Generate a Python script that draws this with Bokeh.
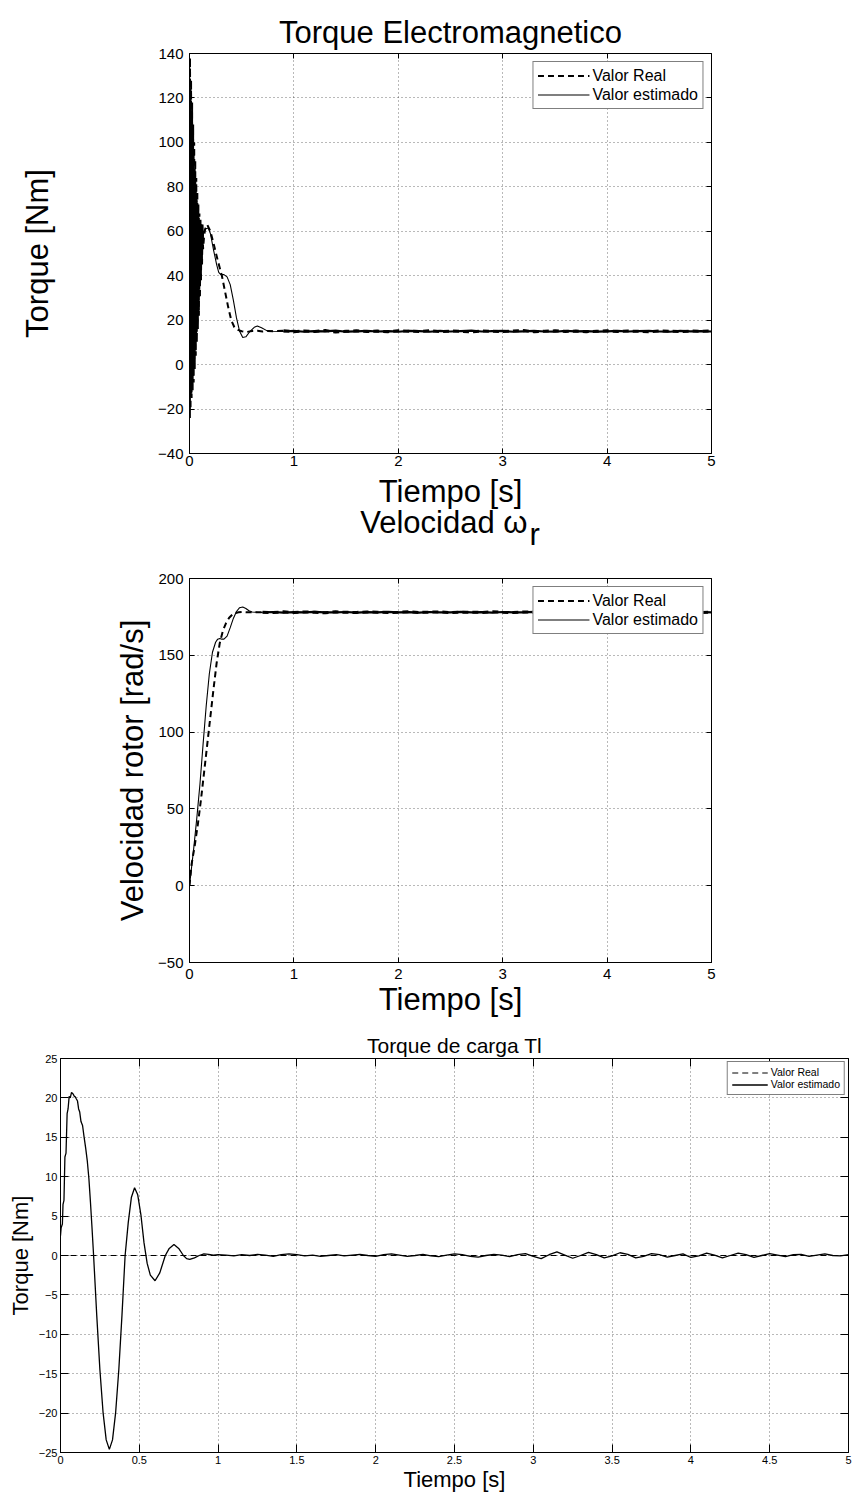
from bokeh.plotting import figure
from bokeh.models import (FixedTicker, LinearAxis, Legend, LegendItem, Range1d)
from bokeh.core.properties import value
from bokeh.embed import file_html
from bokeh.resources import INLINE

FONT = "Liberation Sans"

# ---------------- Electromagnetic torque [Nm] ----------------
te_t_real = [0.000, 0.005, 0.010, 0.015, 0.020, 0.025, 0.030, 0.035, 0.040, 0.045,
             0.050, 0.055, 0.060, 0.065, 0.070, 0.075, 0.080, 0.085, 0.090, 0.095,
             0.100, 0.105, 0.110, 0.115, 0.120, 0.125, 0.130, 0.140, 0.150, 0.170,
             0.200, 0.233, 0.270, 0.310, 0.340, 0.370, 0.400, 0.430, 0.470, 0.500,
             0.550, 0.600, 0.650, 0.700, 0.750, 0.800, 0.900]
te_real = [0, 138, -20, 128, -15, 118, -12, 108, -8, 100,
           -2, 92, 4, 84, 10, 78, 16, 72, 22, 68,
           30, 66, 38, 64, 45, 63, 52, 58, 61, 63,
           60, 54, 47, 40, 33, 26, 20, 16.8, 15.5, 15.0,
           14.7, 15.1, 15.2, 14.9, 15.1, 15.0, 15.2]

te_t_est = [0.000, 0.003, 0.008, 0.013, 0.018, 0.023, 0.028, 0.033, 0.038, 0.043,
            0.048, 0.053, 0.058, 0.063, 0.068, 0.073, 0.078, 0.083, 0.088, 0.093,
            0.098, 0.103, 0.108, 0.113, 0.118, 0.123, 0.128, 0.135, 0.150, 0.180,
            0.200, 0.233, 0.260, 0.280, 0.300, 0.330, 0.360, 0.390, 0.420, 0.450,
            0.480, 0.510, 0.540, 0.580, 0.620, 0.650, 0.690, 0.740, 0.800, 0.900]
te_est = [0, 122, -24, 124, -13, 112, -10, 103, -5, 95,
          1, 88, 7, 80, 13, 74, 19, 70, 26, 66,
          34, 64, 42, 63, 48, 62, 54, 60, 61, 61.5,
          59, 51, 45, 41.5, 40.5, 40.5, 39.5, 36, 29, 21,
          15, 12.2, 12.5, 15, 16.8, 17.4, 16.6, 15.3, 15.0, 14.9]

te_t_steady = [0.9, 1.0, 1.1, 1.2, 1.3, 1.4, 1.5, 1.6, 1.7, 1.8,
               1.9, 2.0, 2.1, 2.2, 2.3, 2.4, 2.5, 2.6, 2.7, 2.8,
               2.9, 3.0, 3.1, 3.2, 3.3, 3.4, 3.5, 3.6, 3.7, 3.8,
               3.9, 4.0, 4.1, 4.2, 4.3, 4.4, 4.5, 4.6, 4.7, 4.8,
               4.9, 5.0]
te_real_steady = [15.2, 14.8, 15.1, 14.9, 15.3, 14.7, 15.0, 15.2, 14.9, 15.1,
                  14.8, 15.2, 15.0, 14.9, 15.3, 14.8, 15.1, 15.0, 14.7, 15.2,
                  15.0, 14.9, 15.1, 15.3, 14.8, 15.0, 15.2, 14.9, 15.1, 14.8,
                  15.0, 15.2, 14.9, 15.1, 15.0, 14.8, 15.2, 15.0, 14.9, 15.1,
                  15.0, 15.2]
te_est_steady = [14.9, 15.2, 14.8, 15.1, 15.0, 15.3, 14.8, 15.0, 15.2, 14.9,
                 15.1, 14.8, 15.2, 15.1, 14.8, 15.2, 14.9, 15.1, 15.3, 14.9,
                 15.1, 15.2, 14.8, 15.0, 15.2, 14.9, 14.8, 15.2, 15.0, 15.1,
                 14.8, 15.0, 15.2, 14.9, 15.1, 15.2, 14.9, 14.8, 15.2, 15.0,
                 15.1, 14.9]

te_yticks = [-40, -20, 0, 20, 40, 60, 80, 100, 120, 140]
te_ylabels = ["\u221240", "\u221220", "0", "20", "40", "60", "80", "100", "120", "140"]

# ---------------- Rotor speed [rad/s] ----------------
w_t_real = [0.00, 0.02, 0.05, 0.08, 0.11, 0.14, 0.17, 0.20, 0.23, 0.26,
            0.29, 0.32, 0.35, 0.38, 0.41, 0.44, 0.47, 0.50, 0.55, 0.60, 0.70]
w_real = [0, 14, 26, 40, 56, 74, 92, 110, 128, 145,
          158, 166, 171, 174.5, 176.5, 177.5, 178, 178.2, 178, 178, 178.1]

w_t_est = [0.00, 0.02, 0.04, 0.07, 0.10, 0.13, 0.16, 0.19, 0.22, 0.25,
           0.27, 0.29, 0.31, 0.33, 0.36, 0.39, 0.42, 0.45, 0.48, 0.51,
           0.54, 0.57, 0.60, 0.65, 0.70]
w_est = [0, 12, 24, 44, 66, 92, 117, 138, 152, 158.5,
         160.5, 161, 160.5, 160.5, 162.5, 168, 174, 178.5, 181, 181.5,
         180.5, 179, 178.2, 178, 177.9]

w_t_steady = [0.7, 0.8, 0.9, 1.0, 1.1, 1.2, 1.3, 1.4, 1.5, 1.6,
              1.7, 1.8, 1.9, 2.0, 2.1, 2.2, 2.3, 2.4, 2.5, 2.6,
              2.7, 2.8, 2.9, 3.0, 3.1, 3.2, 3.3, 3.4, 3.5, 3.6,
              3.7, 3.8, 3.9, 4.0, 4.1, 4.2, 4.3, 4.4, 4.5, 4.6,
              4.7, 4.8, 4.9, 5.0]
w_real_steady = [178.1, 177.8, 178.3, 177.9, 178.2, 178.0, 177.7, 178.3, 178.0, 177.9,
                 178.2, 178.1, 177.8, 178.0, 178.3, 177.9, 178.1, 178.2, 177.8, 178.0,
                 178.1, 177.9, 178.3, 178.0, 177.8, 178.2, 178.0, 177.9, 178.1, 178.3,
                 177.8, 178.0, 178.2, 177.9, 178.1, 178.0, 177.8, 178.2, 178.1, 177.9,
                 178.0, 178.3, 177.9, 178.1]
w_est_steady = [177.9, 178.2, 177.8, 178.1, 178.0, 178.3, 177.9, 178.0, 178.2, 177.8,
                178.1, 178.0, 178.3, 177.9, 178.1, 177.8, 178.2, 178.0, 177.9, 178.3,
                178.0, 178.1, 177.8, 178.2, 178.0, 177.9, 178.3, 178.1, 177.8, 178.0,
                178.2, 177.9, 178.1, 178.3, 177.8, 178.0, 178.1, 177.9, 178.2, 178.0,
                177.8, 178.1, 178.2, 178.0]

w_yticks = [-50, 0, 50, 100, 150, 200]
w_ylabels = ["\u221250", "0", "50", "100", "150", "200"]

# ---------------- Load torque Tl [Nm] ----------------
tl_t_real = [0.0, 5.0]
tl_real = [0.0, 0.0]

tl_t_est = [0.000, 0.004, 0.012, 0.016, 0.022, 0.028, 0.035, 0.042, 0.048, 0.055,
            0.062, 0.070, 0.080, 0.088, 0.095, 0.100, 0.108, 0.115, 0.122, 0.130,
            0.140, 0.150, 0.160, 0.170, 0.180, 0.190, 0.200, 0.210, 0.230, 0.250,
            0.270, 0.290, 0.310, 0.330, 0.350, 0.370, 0.390, 0.410, 0.430, 0.450,
            0.470, 0.490, 0.510, 0.530, 0.550, 0.570, 0.600, 0.630, 0.665, 0.690,
            0.720, 0.750, 0.780, 0.800, 0.820, 0.850, 0.880, 0.910, 0.940, 0.970,
            1.000]
tl_est = [2.5, 3.5, 4.0, 6.5, 7.0, 12.5, 13.0, 18.0, 18.6, 20.2,
          20.0, 20.7, 20.5, 20.2, 20.1, 19.9, 19.6, 18.6, 18.2, 17.0,
          16.5, 15.0, 13.6, 12.0, 9.8, 6.8, 3.5, 0.0, -7.6, -14.5,
          -19.9, -23.4, -24.6, -23.4, -19.9, -14.5, -7.6, 0.0, 4.2, 7.4,
          8.6, 7.7, 5.2, 1.6, -1.0, -2.5, -3.2, -2.2, 0.0, 0.9,
          1.4, 0.9, 0.0, -0.4, -0.5, -0.3, 0.0, 0.2, 0.15, 0.05,
          0.1]

tl_t_steady = [1.05, 1.10, 1.15, 1.20, 1.25, 1.30, 1.35, 1.40, 1.45, 1.50,
               1.55, 1.60, 1.65, 1.70, 1.75, 1.80, 1.85, 1.90, 1.95, 2.00,
               2.05, 2.10, 2.15, 2.20, 2.25, 2.30, 2.35, 2.40, 2.45, 2.50,
               2.55, 2.60, 2.65, 2.70, 2.75, 2.80, 2.85, 2.90, 2.95, 3.00,
               3.05, 3.10, 3.15, 3.20, 3.25, 3.30, 3.35, 3.40, 3.45, 3.50,
               3.55, 3.60, 3.65, 3.70, 3.75, 3.80, 3.85, 3.90, 3.95, 4.00,
               4.05, 4.10, 4.15, 4.20, 4.25, 4.30, 4.35, 4.40, 4.45, 4.50,
               4.55, 4.60, 4.65, 4.70, 4.75, 4.80, 4.85, 4.90, 4.95, 5.00]
tl_est_steady = [0.05, -0.05, 0.1, 0.0, 0.15, 0.05, -0.1, 0.1, 0.2, 0.1,
                 -0.05, 0.05, -0.1, 0.0, 0.1, -0.05, 0.05, 0.15, 0.0, -0.1,
                 0.1, 0.2, 0.05, -0.1, 0.0, 0.15, -0.05, -0.15, 0.05, 0.2,
                 0.1, -0.1, -0.2, 0.0, 0.15, 0.05, -0.15, 0.1, 0.25, -0.1,
                 -0.4, 0.1, 0.45, 0.05, -0.35, 0.0, 0.4, 0.1, -0.3, -0.05,
                 0.35, 0.15, -0.3, -0.1, 0.25, 0.1, -0.2, 0.0, 0.2, -0.25,
                 -0.05, 0.3, 0.05, -0.3, 0.0, 0.3, 0.1, -0.25, 0.0, 0.25,
                 0.05, -0.15, 0.1, 0.15, -0.1, 0.05, 0.2, 0.0, -0.05, 0.1]

tl_yticks = [-25, -20, -15, -10, -5, 0, 5, 10, 15, 20, 25]
tl_ylabels = ["\u221225", "\u221220", "\u221215", "\u221210", "\u22125", "0",
              "5", "10", "15", "20", "25"]

x_ticks_int = [0, 1, 2, 3, 4, 5]
x_labels_int = ["0", "1", "2", "3", "4", "5"]
x_ticks_half = [0, 0.5, 1, 1.5, 2, 2.5, 3, 3.5, 4, 4.5, 5]
x_labels_half = ["0", "0.5", "1", "1.5", "2", "2.5", "3", "3.5", "4", "4.5", "5"]

legend_labels = ["Valor Real", "Valor estimado"]
time_label = ["Tiempo [s]"]
speed_title = ["Velocidad \u03c9"]
speed_title_sub = ["r"]


def make_figure(height, yrange, borders):
    left, right, top, bottom = borders
    p = figure(width=852, height=height, x_range=Range1d(0, 5),
               y_range=Range1d(*yrange), output_backend="svg",
               toolbar_location=None, min_border_left=left,
               min_border_right=right, min_border_top=top,
               min_border_bottom=bottom)
    p.outline_line_color = "black"
    p.outline_line_width = 1
    p.outline_line_alpha = 1
    p.background_fill_color = "white"
    p.border_fill_color = "white"
    return p


def set_title(p, text, size, standoff):
    p.title.text = text
    p.title.align = "center"
    p.title.text_font = FONT
    p.title.text_font_style = "normal"
    p.title.text_font_size = size
    p.title.text_color = "black"
    p.title.standoff = standoff


def style_axes(p, xt, xl, yt, yl, tick_px, tick_len, label_px,
               xlabel, ylabel, label_standoff_y, label_standoff_x, tick_standoff,
               x_tick_standoff=None):
    xa = p.xaxis[0]
    ya = p.yaxis[0]
    xa.ticker = FixedTicker(ticks=xt)
    ya.ticker = FixedTicker(ticks=yt)
    xa.major_label_overrides = dict(zip(xt, xl))
    ya.major_label_overrides = dict(zip(yt, yl))
    for ax in (xa, ya):
        ax.major_label_text_font = FONT
        ax.major_label_text_font_size = f"{tick_px}px"
        ax.major_label_text_color = "black"
        ax.major_tick_in = tick_len
        ax.major_tick_out = 0
        ax.major_tick_line_color = "black"
        ax.minor_tick_line_color = None
        ax.axis_line_color = "black"
        ax.axis_label_text_font = FONT
        ax.axis_label_text_font_style = "normal"
        ax.axis_label_text_font_size = f"{label_px}px"
        ax.axis_label_text_color = "black"
        ax.major_label_standoff = tick_standoff
    if x_tick_standoff is not None:
        xa.major_label_standoff = x_tick_standoff
    if xlabel:
        xa.axis_label = xlabel
        xa.axis_label_standoff = label_standoff_x
    ya.axis_label = ylabel
    ya.axis_label_standoff = label_standoff_y

    # mirrored tick marks on the top and right edges of the box
    for ticks, place in ((xt, "above"), (yt, "right")):
        m = LinearAxis(ticker=FixedTicker(ticks=ticks),
                       major_label_overrides={t: "" for t in ticks},
                       major_label_text_font_size="1px",
                       major_label_standoff=0, major_tick_in=tick_len,
                       major_tick_out=0, minor_tick_line_color=None,
                       major_tick_line_color="black", axis_line_color=None)
        p.add_layout(m, place)

    p.xgrid[0].ticker = FixedTicker(ticks=xt)
    p.ygrid[0].ticker = FixedTicker(ticks=yt)
    for g in (p.xgrid[0], p.ygrid[0]):
        g.grid_line_color = "black"
        g.grid_line_alpha = 0.55
        g.grid_line_dash = "1 3"
        g.grid_line_width = 1


def add_legend(p, renderers, font_px, glyph_w, row_h, margin, padding):
    items = [LegendItem(label=lab, renderers=[r])
             for lab, r in zip(legend_labels, renderers)]
    lg = Legend(items=items, location="top_right", margin=margin,
                padding=padding, spacing=0, glyph_width=glyph_w,
                glyph_height=row_h, label_height=row_h, label_standoff=3,
                label_text_font=FONT, label_text_font_size=f"{font_px}px",
                label_text_color="black", border_line_color="black",
                border_line_width=1, background_fill_color="white",
                background_fill_alpha=1)
    p.add_layout(lg)


# ---------- figure 1: electromagnetic torque ----------
p1 = make_figure(473, (-40, 140), (189, 141, 53, 20))
set_title(p1, "Torque Electromagnetico", "31px", 8)
style_axes(p1, x_ticks_int, x_labels_int, te_yticks, te_ylabels, 15, 5, 31,
           None, "Torque [Nm]", 100, 0, 6, x_tick_standoff=2)
r1a = p1.line(te_t_real, te_real, line_color="black", line_width=2.0,
              line_dash="6 4")
r1b = p1.line(te_t_est, te_est, line_color="black", line_width=1.1)
p1.line(te_t_steady, te_real_steady, line_color="black", line_width=3.0,
        line_dash="6 4")
p1.line(te_t_steady, te_est_steady, line_color="black", line_width=2.2)
add_legend(p1, [r1a, r1b], 16, 52, 19, 8, 4)

# ---------- strip: time label of plot 1 and heading of the speed plot ----------
pt = figure(width=852, height=91, x_range=Range1d(0, 852), y_range=Range1d(0, 91),
            output_backend="svg", toolbar_location=None, min_border=0,
            x_axis_location=None, y_axis_location=None, title=None)
pt.outline_line_color = None
pt.xgrid.visible = False
pt.ygrid.visible = False
pt.text(x=[450], y=[73], text=time_label, text_align="center",
        text_baseline="alphabetic", text_font=value(FONT),
        text_font_size="31px", text_color="black")
pt.text(x=[527], y=[42], text=speed_title, text_align="right",
        text_baseline="alphabetic", text_font=value(FONT),
        text_font_size="31px", text_color="black")
pt.text(x=[529], y=[30], text=speed_title_sub, text_align="left",
        text_baseline="alphabetic", text_font=value(FONT),
        text_font_size="31px", text_color="black")

# ---------- figure 2: rotor speed ----------
p2 = make_figure(458, (-50, 200), (189, 141, 14, 60))
style_axes(p2, x_ticks_int, x_labels_int, w_yticks, w_ylabels, 15, 5, 31,
           "Tiempo [s]", "Velocidad rotor [rad/s]", 5, 0, 6)
r2a = p2.line(w_t_real, w_real, line_color="black", line_width=2.0,
              line_dash="6 4")
r2b = p2.line(w_t_est, w_est, line_color="black", line_width=1.1)
p2.line(w_t_steady, w_real_steady, line_color="black", line_width=3.0,
        line_dash="6 4")
p2.line(w_t_steady, w_est_steady, line_color="black", line_width=2.2)
add_legend(p2, [r2a, r2b], 16, 52, 19, 8, 4)

# ---------- figure 3: load torque ----------
p3 = make_figure(472, (-25, 25), (60, 4, 36, 41))
set_title(p3, "Torque de carga Tl", "21px", 4)
style_axes(p3, x_ticks_half, x_labels_half, tl_yticks, tl_ylabels, 11, 8, 22,
           "Tiempo [s]", "Torque [Nm]", 3, 0, 3)
r3a = p3.line(tl_t_real, tl_real, line_color="black", line_width=1.0,
              line_dash="6 4")
r3b = p3.line(tl_t_est + tl_t_steady, tl_est + tl_est_steady,
              line_color="black", line_width=1.3)
add_legend(p3, [r3a, r3b], 10.5, 36, 11, 3, 4)

open("out.html", "w").write(file_html([p1, pt, p2, p3], INLINE))
